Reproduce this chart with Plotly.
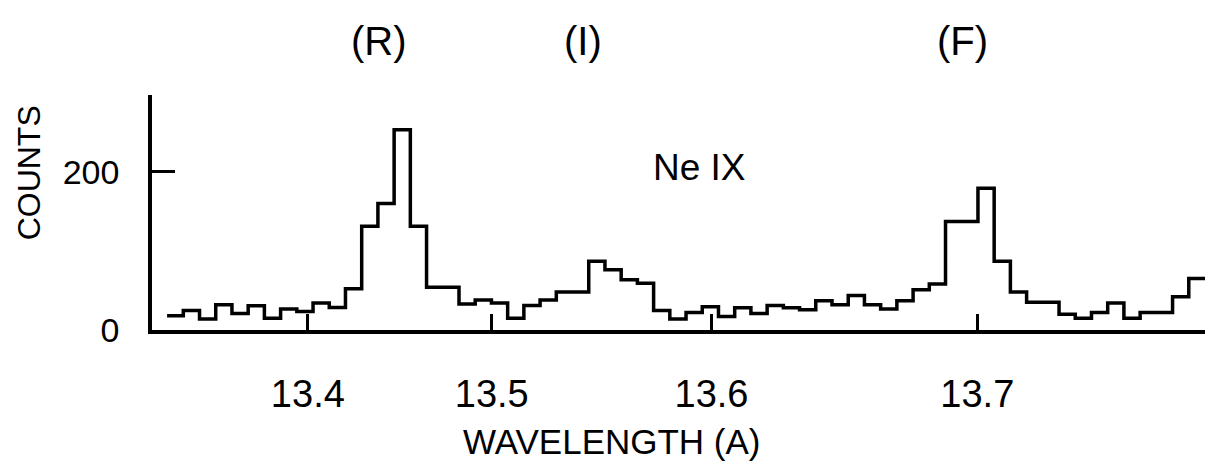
import plotly.graph_objects as go

# Counts per detector channel (Ne IX triplet region)
counts = [18, 24.5, 14, 32, 21, 30.5, 15, 26.5, 23.5, 34, 28.5, 52, 131, 160, 253, 131,
          54, 54, 33, 38, 34, 15, 31, 38, 48, 48, 87, 76, 63.5, 59, 24.5, 14,
          22, 29.5, 17, 28, 21, 31, 28, 25.5, 37, 32, 43.5, 32, 26.5, 37, 51, 58,
          137, 137, 179, 87, 48, 35, 35, 20, 15, 22, 34, 15, 22, 22, 42, 65]
channels = list(range(len(counts) + 1))  # bin edges in channel units

# Wavelength tick labels and their channel positions (non-linear dispersion)
tick_channels = [8.68, 20.02, 33.57, 49.96]
tick_labels = ["13.4", "13.5", "13.6", "13.7"]

# Line identifications across the top
line_labels = ["(R)", "(I)", "(F)"]
line_label_pos = [0.216, 0.409, 0.770]

FONT = "Liberation Sans"

fig = go.Figure()
fig.add_trace(go.Scatter(
    x=channels,
    y=counts + [counts[-1]],
    mode="lines",
    line=dict(shape="hv", color="black", width=3.5),
    hoverinfo="skip",
    showlegend=False,
))

fig.update_layout(
    width=1212, height=465,
    margin=dict(l=152, r=7, t=95, b=135, autoexpand=False),
    paper_bgcolor="white", plot_bgcolor="white",
    font=dict(family=FONT, color="black"),
    showlegend=False,
)

fig.update_xaxes(
    range=[-0.93, 64.0], automargin=False,
    showline=True, linecolor="black", linewidth=3.5,
    showgrid=False, zeroline=False,
    tickmode="array", tickvals=tick_channels, ticktext=tick_labels,
    ticks="inside", ticklen=16, tickwidth=3, tickcolor="black",
    tickfont=dict(size=38, family=FONT, color="black"),
    ticklabelstandoff=28,
)
fig.update_yaxes(
    range=[0, 297], automargin=False,
    showline=True, linecolor="black", linewidth=3.5,
    showgrid=False, zeroline=False,
    tickmode="array", tickvals=[0, 200], ticktext=["0", "200"],
    ticks="inside", ticklen=23, tickwidth=3, tickcolor="black",
    tickfont=dict(size=34, family=FONT, color="black"),
    ticklabelstandoff=22,
)

# Axis titles
fig.add_annotation(text="WAVELENGTH (A)", xref="paper", yref="paper",
                   x=0.437, y=-0.567, xanchor="center", yanchor="bottom",
                   showarrow=False, font=dict(size=35, family=FONT, color="black"))
fig.add_annotation(text="COUNTS", xref="paper", yref="paper",
                   x=-0.117, y=0.67, xanchor="center", yanchor="middle",
                   textangle=-90, showarrow=False,
                   font=dict(size=32, family=FONT, color="black"))

# Ion label
fig.add_annotation(text="Ne IX", xref="x", yref="y", x=32.8, y=206,
                   xanchor="center", yanchor="middle", showarrow=False,
                   font=dict(size=37, family=FONT, color="black"))

# Line identification labels above the plot
for lab, px in zip(line_labels, line_label_pos):
    fig.add_annotation(text=lab, xref="paper", yref="paper", x=px, y=1.23,
                       xanchor="center", yanchor="middle", showarrow=False,
                       font=dict(size=40, family=FONT, color="black"))

fig.write_html("out.html", config={"displayModeBar": False},
               post_script="document.body.style.margin='0px';")
